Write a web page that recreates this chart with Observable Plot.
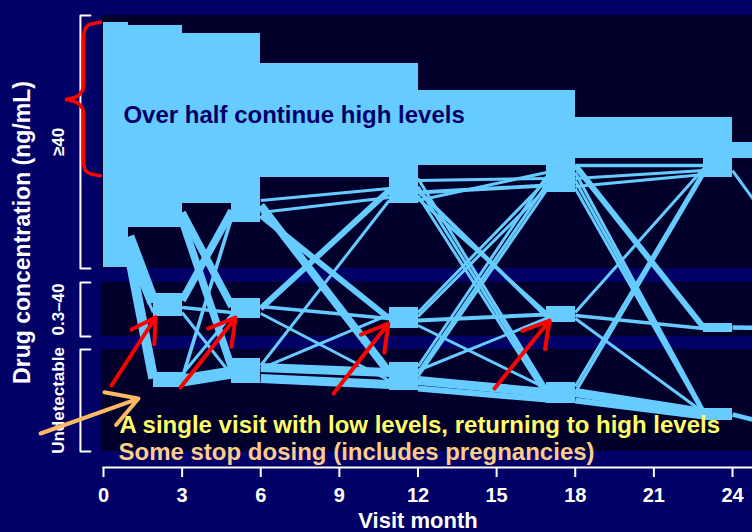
<!DOCTYPE html>
<html>
<head>
<meta charset="utf-8">
<script src="https://cdn.jsdelivr.net/npm/d3@7"></script>
<script src="https://cdn.jsdelivr.net/npm/@observablehq/plot@0.6"></script>
<style>
  html, body { margin: 0; padding: 0; background: #000066; overflow: hidden; }
  #chart svg { display: block; }
  #chart g[aria-label="x-axis tick label"] text { font-weight: bold; }
</style>
</head>
<body>
<div id="chart"></div>
<script>
// Visits (months) and the window each visit's block occupies on the time axis
const visits      = [0, 3, 6, 12, 18, 24, 30];
const windowStart = [0, 1.9, 4.9, 10.9, 16.9, 22.9, 28.9];
const windowEnd   = [0.95, 3, 6, 12, 18, 24, 30];
const monthTicks  = [0, 3, 6, 9, 12, 15, 18, 21, 24];

// Concentration categories, stacked top to bottom (vertical unit = one participant row)
const levelNames  = ["≥40", "0.3–40", "Undetectable"];
const levelTop    = [0, 89, 111.33];
const levelBottom = [84.33, 107, 145.33];

// Participants at each visit, by category (row ranges)
const highTop    = [2.33, 3.33, 6, 16, 25, 34];
const highBottom = [84, 70.67, 69, 62.67, 59, 54];
const midTop     = [null, 92.67, 94.33, 97.33, 97, 102.67];
const midBottom  = [null, 100.33, 101, 104.33, 102.33, 105.67];
const undTop     = [null, 119, 114.33, 115.67, 122.33, 131];
const undBottom  = [null, 124, 122.67, 125, 129.33, 135];

// Participants remaining ≥40 from one visit to the next
const stayTop    = [3.33, 6, 16, 25, 34, 42.33];
const stayBottom = [70.67, 62.67, 54, 50, 47.67, 47.67];

// Other transitions between consecutive visits: [row at visit, row at next visit, participants]
const from0to3 = [
  [73.67, 95.67, 4], [78.33, 121, 3.3], [80, 99, 1]
];
const from3to6 = [
  [65.67, 97, 2.5], [68.33, 117.67, 2.5], [95, 65, 2.5], [121, 67, 1.2],
  [97.33, 99, 1.2], [99, 120, 1], [119.67, 99.67, 1], [121.67, 119, 4]
];
const from6to12 = [
  [63.33, 119, 2.7], [66.67, 101, 2], [97.67, 58.33, 2], [61.67, 57.67, 1],
  [65.67, 60.67, 1], [116.67, 61.67, 1], [97, 101, 1.2], [99.33, 121.67, 1],
  [117.67, 99.67, 1], [117.33, 119, 3], [121, 123, 3]
];
const from12to18 = [
  [55, 54.33, 1], [59, 56.67, 1.3], [61.67, 52.33, 1], [54.33, 124.33, 1],
  [57, 125.67, 1], [60, 127, 1], [58.33, 100.33, 1.3], [61, 99, 1],
  [99, 55, 1], [100.33, 57.67, 1], [117, 53.67, 1], [119, 56.33, 1],
  [120.33, 58.33, 1], [118.33, 101, 1], [101.67, 99.67, 1.3], [103.33, 124.33, 1],
  [121.67, 125.67, 3], [124.33, 128, 2]
];
const from18to24 = [
  [50, 50, 1.2], [54.33, 51.67, 1], [57, 53, 1], [50, 104, 2],
  [52.33, 131.67, 1], [55, 132.33, 1], [57.67, 133, 1], [99, 51, 1],
  [100, 104.33, 1.2], [101, 132.33, 1], [123.67, 51.67, 1], [125.67, 53, 1],
  [125.67, 132.33, 3], [128.33, 133.67, 2]
];
const from24to30 = [
  [51.67, 111, 1], [104, 104.33, 1.5], [133, 143.67, 1.5]
];

const steps = [from0to3, from3to6, from6to12, from12to18, from18to24, from24to30];

// ---- derived tables ----
const yDomain = [0, levelBottom[2]];
const yRange = [15, 451];
const pxPerRow = (yRange[1] - yRange[0]) / (yDomain[1] - yDomain[0]);

const levels = levelNames.map((name, i) => ({name, y1: levelTop[i], y2: levelBottom[i], mid: (levelTop[i] + levelBottom[i]) / 2}));

const nodes = [];
for (let i = 0; i < highTop.length; ++i) {
  nodes.push({x1: windowStart[i], x2: windowEnd[i], y1: highTop[i], y2: highBottom[i]});
  if (midTop[i] != null) nodes.push({x1: windowStart[i], x2: windowEnd[i], y1: midTop[i], y2: midBottom[i]});
  if (undTop[i] != null) nodes.push({x1: windowStart[i], x2: windowEnd[i], y1: undTop[i], y2: undBottom[i]});
}
const stays = stayTop.map((t, i) => ({x1: windowEnd[i], x2: windowStart[i + 1], y1: t, y2: stayBottom[i]}));
const links = steps.flatMap((list, i) =>
  list.map(([y1, y2, rows]) => ({x1: windowEnd[i], x2: windowStart[i + 1], y1, y2, rows})));

// Annotation geometry (months, rows)
const bracketInner = -0.5, bracketOuter = -0.88;
const brackets = levels.flatMap((l, i) => [
  {x: bracketInner, y: l.y1, k: i}, {x: bracketOuter, y: l.y1, k: i},
  {x: bracketOuter, y: l.y2, k: i}, {x: bracketInner, y: l.y2, k: i}
]);
const brace = [
  [-0.114, 2.23, 0], [-0.534, 3, 0], [-0.725, 5, 0], [-0.763, 7.67, 0], [-0.763, 23.67, 0],
  [-0.878, 26, 0], [-1.106, 27.33, 0], [-1.412, 28, 0],
  [-1.412, 28, 1], [-1.106, 28.67, 1], [-0.878, 30, 1], [-0.763, 32.33, 1], [-0.763, 48.33, 1],
  [-0.725, 51, 1], [-0.534, 52.67, 1], [-0.114, 53.43, 1]
].map(([x, y, k]) => ({x, y, k}));
const redArrows = [
  {x1: 0.305, y1: 123.33, x2: 1.99, y2: 100.57},
  {x1: 2.94, y1: 124, x2: 5.04, y2: 100.67},
  {x1: 8.78, y1: 126, x2: 10.87, y2: 102.67},
  {x1: 14.92, y1: 124.33, x2: 17.02, y2: 101.67}
];
const stopArrow = [{x1: -2.4, y1: 139.33, x2: 1.335, y2: 127.67}];

const light = "#66ccff";
const panel = "#00002b";

const chart = Plot.plot({
  width: 752,
  height: 532,
  marginLeft: 103,
  marginRight: 0,
  marginTop: 15,
  marginBottom: 65,
  x: {domain: [0, 24], range: [103, 732]},
  y: {domain: yDomain, range: yRange, axis: null},
  style: {background: "#000066", color: "white", fontFamily: "'Liberation Sans', Arial, sans-serif", overflow: "hidden"},
  marks: [
    // category bands
    Plot.rect(levels, {x1: -0.08, x2: 26, y1: "y1", y2: "y2", fill: panel, shapeRendering: "crispEdges"}),
    // transitions
    Plot.link(links, {x1: "x1", x2: "x2", y1: "y1", y2: "y2", stroke: light,
      strokeWidth: d => d.rows * pxPerRow, strokeLinecap: "butt", clip: true}),
    Plot.rect(stays, {x1: "x1", x2: "x2", y1: "y1", y2: "y2", fill: light, clip: true,
      shapeRendering: "crispEdges"}),
    Plot.rect(nodes, {x1: "x1", x2: "x2", y1: "y1", y2: "y2", fill: light, shapeRendering: "crispEdges"}),
    // x axis
    Plot.frame({anchor: "bottom", stroke: "white", strokeWidth: 2}),
    Plot.axisX(monthTicks, {anchor: "bottom", tickSize: 10, tickPadding: 10, fontSize: 20,
      fontWeight: "bold", strokeWidth: 2, label: null}),
    Plot.text(["Visit month"], {x: 12, y: 170.8, text: d => d, lineAnchor: "bottom",
      fontSize: 22, fontWeight: "bold", fill: "white"}),
    // y axis: brackets, category labels, title
    Plot.line(brackets, {x: "x", y: "y", z: "k", stroke: "white", strokeWidth: 2}),
    Plot.text(levels, {x: -1.72, y: "mid", text: "name", rotate: -90, fontSize: 17,
      fontWeight: "bold", fill: "white"}),
    Plot.text(["Drug concentration (ng/mL)"], {x: -3.09, y: 72.33, text: d => d, rotate: -90,
      fontSize: 23, fontWeight: "bold", fill: "white"}),
    // annotations
    Plot.line(brace, {x: "x", y: "y", z: "k", curve: "monotone-y", stroke: "#ff0000", strokeWidth: 3.5}),
    Plot.text(["Over half continue high levels"], {x: 0.76, y: 35.67, text: d => d, textAnchor: "start",
      lineAnchor: "bottom", fontSize: 24, fontWeight: "bold", fill: "#000066"}),
    Plot.arrow(redArrows, {x1: "x1", y1: "y1", x2: "x2", y2: "y2", stroke: "#ff0000",
      strokeWidth: 4, headLength: 14}),
    Plot.arrow(stopArrow, {x1: "x1", y1: "y1", x2: "x2", y2: "y2", stroke: "#ffb964",
      strokeWidth: 4, headLength: 15}),
    Plot.text(["A single visit with low levels, returning to high levels"], {x: 0.61, y: 139.33,
      text: d => d, textAnchor: "start", lineAnchor: "bottom", fontSize: 24, fontWeight: "bold", fill: "#ffff66"}),
    Plot.text(["Some stop dosing (includes pregnancies)"], {x: 0.572, y: 148,
      text: d => d, textAnchor: "start", lineAnchor: "bottom", fontSize: 24, fontWeight: "bold", fill: "#ffcc8a"})
  ]
});
document.getElementById("chart").append(chart);
</script>
</body>
</html>
